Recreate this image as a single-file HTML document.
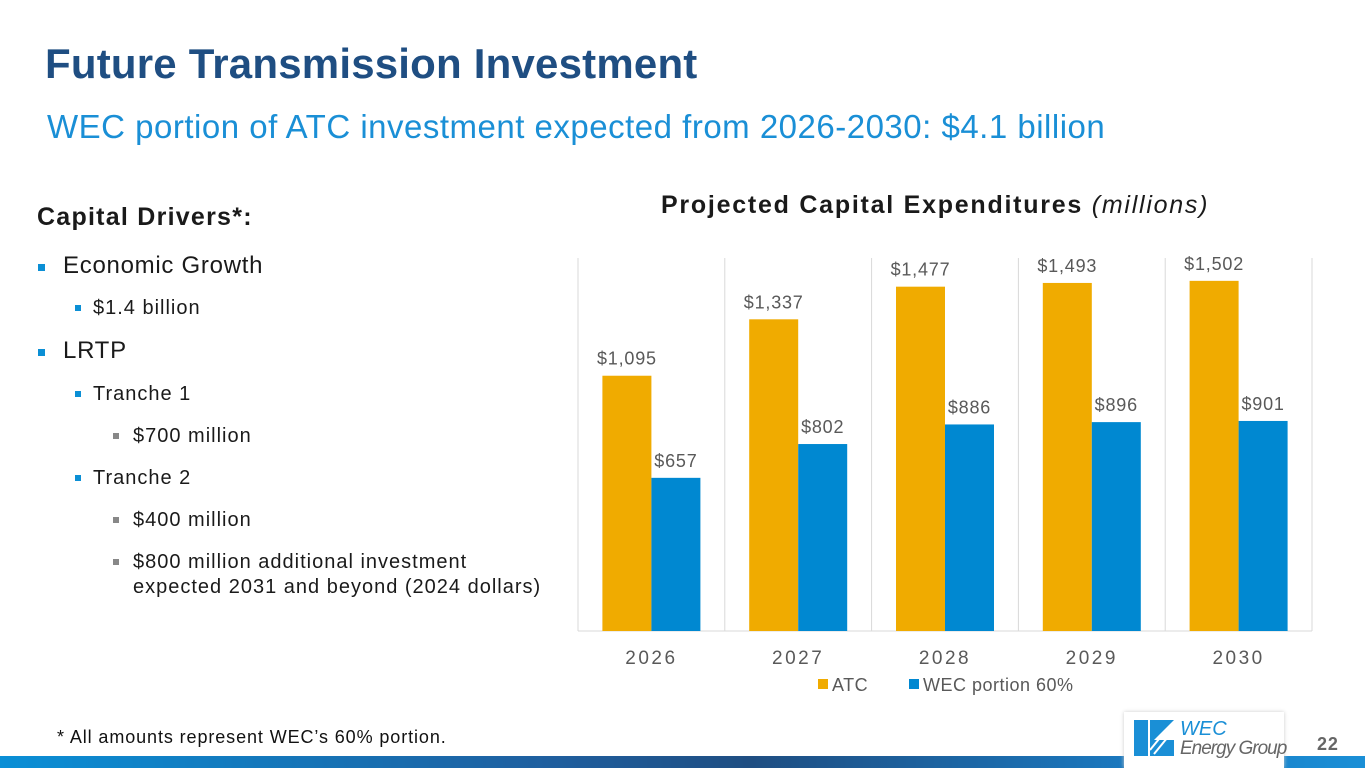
<!DOCTYPE html>
<html><head><meta charset="utf-8">
<style>
body{margin:0;width:1365px;height:768px;overflow:hidden;background:#fff;font-family:"Liberation Sans",Arial,sans-serif;position:relative}
.a{position:absolute;white-space:nowrap;letter-spacing:0.05em}
.sq{position:absolute;width:6px;height:6px;background:#0b8fd5}
</style></head><body>
<div class="a" style="left:45px;top:40px;font-size:42px;font-weight:bold;color:#1f4e82;letter-spacing:0.2px">Future Transmission Investment</div>
<div class="a" style="left:47px;top:108px;font-size:33px;color:#1a8fd6;letter-spacing:0.5px">WEC portion of ATC investment expected from 2026-2030: $4.1 billion</div>
<div>
<div class="a" style="left:37px;top:203px;font-size:25px;font-weight:bold;color:#1a1a1a">Capital Drivers*:</div>
<div class="sq" style="left:38px;top:264px;width:7px;height:7px"></div><div class="a" style="left:63px;top:252px;font-size:24px;color:#1a1a1a;letter-spacing:0.03em">Economic Growth</div>
<div class="sq" style="left:75px;top:305px"></div><div class="a" style="left:93px;top:297px;font-size:20px;color:#1a1a1a">$1.4 billion</div>
<div class="sq" style="left:38px;top:349px;width:7px;height:7px"></div><div class="a" style="left:63px;top:337px;font-size:24px;color:#1a1a1a;letter-spacing:0.03em">LRTP</div>
<div class="sq" style="left:75px;top:391px"></div><div class="a" style="left:93px;top:383px;font-size:20px;color:#1a1a1a">Tranche 1</div>
<div class="sq" style="left:113px;top:433px;background:#888"></div><div class="a" style="left:133px;top:425px;font-size:20px;color:#1a1a1a">$700 million</div>
<div class="sq" style="left:75px;top:475px"></div><div class="a" style="left:93px;top:467px;font-size:20px;color:#1a1a1a">Tranche 2</div>
<div class="sq" style="left:113px;top:517px;background:#888"></div><div class="a" style="left:133px;top:509px;font-size:20px;color:#1a1a1a">$400 million</div>
<div class="sq" style="left:113px;top:559px;background:#888"></div><div class="a" style="left:133px;top:550px;font-size:20px;color:#1a1a1a;line-height:25px">$800 million additional investment<br>expected 2031 and beyond (2024 dollars)</div>
</div>
<div class="a" style="left:57px;top:727px;font-size:18px;color:#111">* All amounts represent WEC’s 60% portion.</div>
<div class="a" style="left:661px;top:191px;font-size:25px;font-weight:bold;color:#1a1a1a;letter-spacing:0.07em">Projected Capital Expenditures <i style="font-weight:normal">(millions)</i></div>
<svg id="chart" class="a" style="left:0;top:0" width="1365" height="768"></svg>
<div class="a" style="left:0;top:756px;width:1365px;height:12px;background:linear-gradient(90deg,#0a8fd6 0%,#1f5f9f 40%,#1f4e82 55%,#1a7cc4 85%,#1a8fd6 100%)"></div>
<div class="a" style="left:1124px;top:712px;width:160px;height:56px;background:#fff;box-shadow:0 0 4px #ccc;letter-spacing:0">
<svg width="44" height="40" style="position:absolute;left:10px;top:8px"><rect x="0" y="0" width="14" height="36" fill="#1a8fd6"/><polygon points="16,0 40,0 20,20 40,20 40,36 16,36" fill="#1a8fd6"/><line x1="16" y1="30" x2="34" y2="8" stroke="#fff" stroke-width="2"/><line x1="20" y1="34" x2="38" y2="12" stroke="#fff" stroke-width="2"/></svg>
<div class="a" style="left:56px;top:6px;font-size:20px;font-style:italic;color:#1a8fd6;letter-spacing:0">WEC</div>
<div class="a" style="left:56px;top:26px;font-size:19px;font-style:italic;color:#666;letter-spacing:-1px">Energy Group</div>
</div>
<div class="a" style="left:1317px;top:734px;font-size:18px;font-weight:bold;color:#666">22</div>
<script>
const years=["2026","2027","2028","2029","2030"];
const atc=[1095,1337,1477,1493,1502];
const wec=[657,802,886,896,901];
const svg=document.getElementById('chart');const NS='http://www.w3.org/2000/svg';
const px0=578,px1=1312,base=631,plotTop=258,yMax=1600;
const cw=(px1-px0)/years.length,bw=49;
const yScale=v=>base-(v/yMax)*(base-plotTop);
function mk(t,a){const e=document.createElementNS(NS,t);for(const k in a)e.setAttribute(k,a[k]);svg.appendChild(e);return e;}
for(let i=0;i<=years.length;i++){const g=mk('line',{x1:px0+i*cw,x2:px0+i*cw,y1:plotTop,y2:base,stroke:'#d9d9d9'});

}
const ax=mk('line',{x1:px0,x2:px1,y1:base,y2:base,stroke:'#d9d9d9'});


years.forEach((yr,i)=>{const c=px0+i*cw+cw/2;
[[atc[i],'#f0ab00',c-bw,'atc'],[wec[i],'#0088d1',c,'wec']].forEach(([v,col,bx,n])=>{
const r=mk('rect',{x:bx,y:yScale(v),width:bw,height:base-yScale(v),fill:col});


const t=mk('text',{x:bx+bw/2,y:yScale(v)-11,'text-anchor':'middle','font-size':18,fill:'#595959','letter-spacing':'0.8'});t.textContent='$'+v.toLocaleString('en-US');

});
const l=mk('text',{x:c,y:664,'text-anchor':'middle','font-size':19,fill:'#595959','letter-spacing':'2.5'});l.textContent=yr;

});
[[818,'#f0ab00','ATC'],[909,'#0088d1','WEC portion 60%']].forEach(([lx,col,txt])=>{
const g=mk('g',{});


const r=document.createElementNS(NS,'rect');r.setAttribute('x',lx);r.setAttribute('y',679);r.setAttribute('width',10);r.setAttribute('height',10);r.setAttribute('fill',col);g.appendChild(r);
const t=document.createElementNS(NS,'text');t.setAttribute('x',lx+14);t.setAttribute('y',691);t.setAttribute('font-size',18);t.setAttribute('fill','#595959');t.setAttribute('letter-spacing','0.5');t.textContent=txt;g.appendChild(t);});
</script>
</body></html>
